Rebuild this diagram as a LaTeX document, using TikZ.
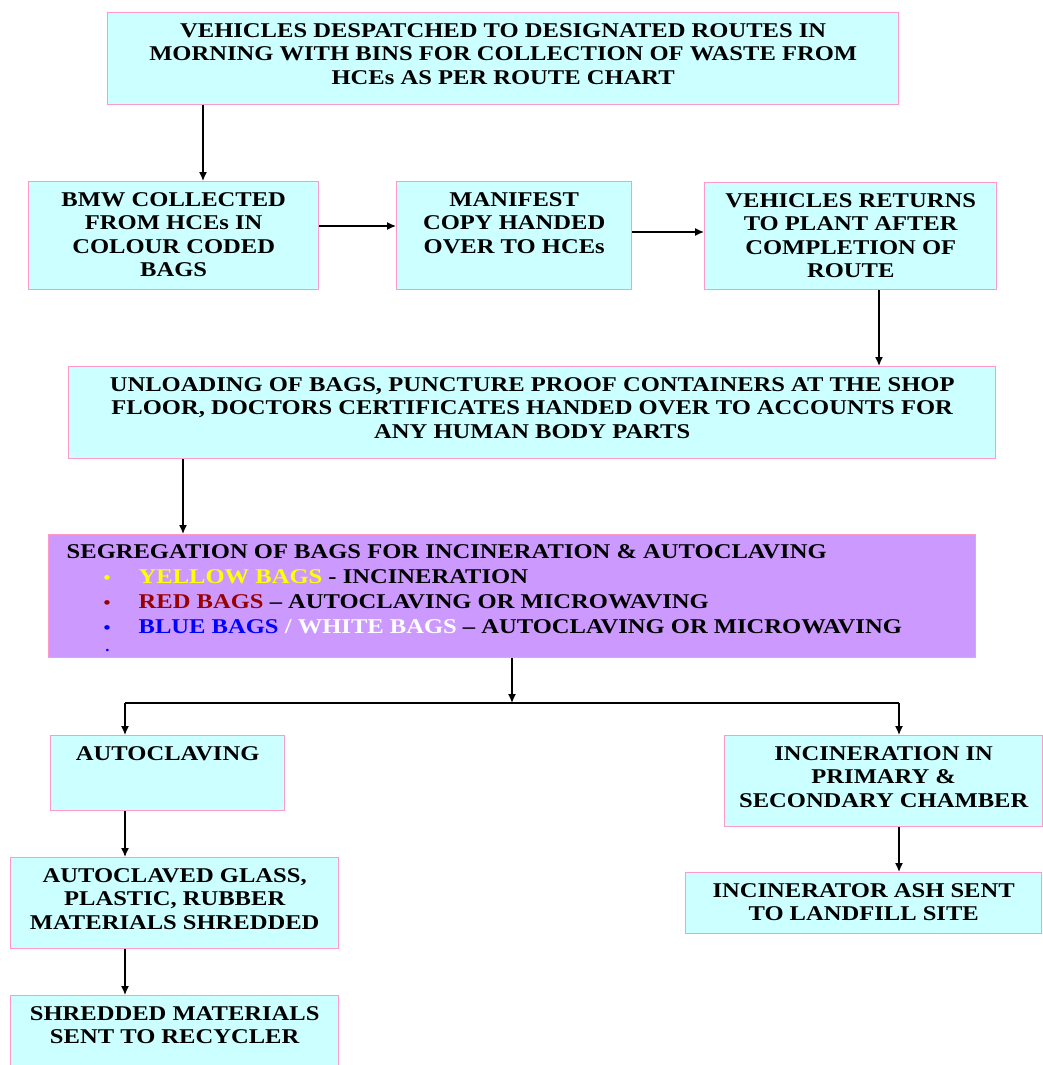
\documentclass[tikz,border=0pt]{standalone}
\usepackage{fontspec}
\setmainfont{Liberation Serif}[FakeStretch=1.17]
\usetikzlibrary{arrows.meta}
\definecolor{cy}{HTML}{CCFFFF}
\definecolor{pu}{HTML}{CC99FF}
\definecolor{bdr}{HTML}{FF99CC}
\definecolor{ylw}{HTML}{FFFF00}
\definecolor{dred}{HTML}{990000}
\definecolor{blu}{HTML}{0000FF}
\newcommand\cbx[3]{\parbox[c][#2pt][t]{#1pt}{\vspace*{8.5pt}\centering\rule{0pt}{16pt}#3\par}}
\newcommand\bitem[2]{\hspace*{55pt}\makebox[35pt][l]{\textcolor{#1}{\fontsize{17}{17}\selectfont\textbullet}}#2}
\begin{document}
\begin{tikzpicture}[x=1pt,y=-1pt,
  every node/.style={font=\fontsize{21}{23.5}\selectfont\bfseries},
  cbox/.style={draw=bdr,fill=cy,line width=1.4pt,inner sep=0pt,anchor=north west},
  pbox/.style={draw=bdr,fill=pu,line width=1.4pt,inner sep=0pt,anchor=north west},
  arr/.style={line width=1.4pt,-{Latex[length=9pt,width=8pt]}},
  ln/.style={line width=1.4pt}]
\clip (0,0) rectangle (1043,1065);
\fill[white] (0,0) rectangle (1043,1065);
% boxes
\node[cbox] (top) at (107,12) {\cbx{791}{92}{VEHICLES DESPATCHED TO DESIGNATED ROUTES IN\\MORNING WITH BINS FOR COLLECTION OF WASTE FROM\\HCEs AS PER ROUTE CHART}};
\node[cbox] (bmw) at (28,181) {\cbx{290}{108}{BMW COLLECTED\\FROM HCEs IN\\COLOUR CODED\\BAGS}};
\node[cbox] (man) at (396,181) {\cbx{235}{108}{MANIFEST\\COPY HANDED\\OVER TO HCEs}};
\node[cbox] (veh) at (704,182) {\cbx{292}{107}{VEHICLES RETURNS\\TO PLANT AFTER\\COMPLETION OF\\ROUTE}};
\node[cbox] (unl) at (68,366) {\cbx{927}{92}{UNLOADING OF BAGS, PUNCTURE PROOF CONTAINERS AT THE SHOP\\FLOOR, DOCTORS CERTIFICATES HANDED OVER TO ACCOUNTS FOR\\ANY HUMAN BODY PARTS}};
\node[pbox,font=\fontsize{21}{25}\selectfont\bfseries] (seg) at (48,534) {\parbox[c][123pt][t]{927pt}{\raggedright\vspace*{8pt}\hspace*{18pt}\rule{0pt}{16pt}SEGREGATION OF BAGS FOR INCINERATION \& AUTOCLAVING\\
\bitem{ylw}{\textcolor{ylw}{YELLOW BAGS} - INCINERATION}\\
\bitem{dred}{\textcolor{dred}{RED BAGS} – AUTOCLAVING OR MICROWAVING}\\
\bitem{blu}{\textcolor{blu}{BLUE BAGS} \textcolor{white}{/ WHITE BAGS} – AUTOCLAVING OR MICROWAVING}\\[-5pt]
\hspace*{57pt}\textcolor{blu}{\fontsize{9}{9}\selectfont\textbullet}\par}};
\node[cbox] (aut) at (50,735) {\cbx{234}{75}{AUTOCLAVING}};
\node[cbox] (inc) at (724,735) {\cbx{318}{91}{INCINERATION IN\\PRIMARY \&\\SECONDARY CHAMBER}};
\node[cbox] (acg) at (10,857) {\cbx{328}{91}{AUTOCLAVED GLASS,\\PLASTIC, RUBBER\\MATERIALS SHREDDED}};
\node[cbox] (ash) at (685,872) {\cbx{356}{61}{INCINERATOR ASH SENT\\TO LANDFILL SITE}};
\node[cbox] (shr) at (10,995) {\cbx{328}{90}{SHREDDED MATERIALS\\SENT TO RECYCLER}};
% guide coordinates
\coordinate (c1) at (203,0);
\coordinate (r1) at (0,226);
\coordinate (r2) at (0,232);
\coordinate (c2) at (879,0);
\coordinate (c3) at (183,0);
\coordinate (c4) at (512,0);
\coordinate (j) at (512,703);
\coordinate (cl) at (125,703);
\coordinate (cr) at (899,703);
% connectors
\draw[arr] (top.south -| c1) -- (bmw.north -| c1);
\draw[arr] (bmw.east |- r1) -- (man.west |- r1);
\draw[arr] (man.east |- r2) -- (veh.west |- r2);
\draw[arr] (veh.south -| c2) -- (unl.north -| c2);
\draw[arr] (unl.south -| c3) -- (seg.north -| c3);
\draw[arr] (seg.south -| c4) -- (j);
\draw[ln] (cl) -- (cr);
\draw[arr] (cl) -- (aut.north -| cl);
\draw[arr] (cr) -- (inc.north -| cr);
\draw[arr] (aut.south -| cl) -- (acg.north -| cl);
\draw[arr] (acg.south -| cl) -- (shr.north -| cl);
\draw[arr] (inc.south -| cr) -- (ash.north -| cr);
\end{tikzpicture}
\end{document}
